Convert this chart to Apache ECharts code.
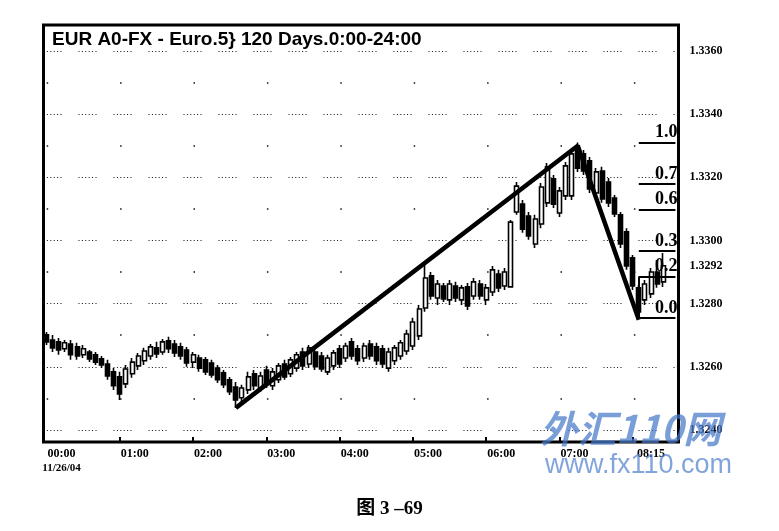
<!DOCTYPE html>
<html>
<head>
<meta charset="utf-8">
<script src="https://cdn.jsdelivr.net/npm/echarts@6/dist/echarts.min.js"></script>
<style>
html,body{margin:0;padding:0;background:#fff;}
#chart{width:779px;height:531px;}
</style>
</head>
<body>
<div id="chart"></div>
<script>
const categories = [
"00:00","00:05","00:10","00:15","00:20","00:25","00:30","00:35","00:40","00:45","00:50","00:55",
"01:00","01:05","01:10","01:15","01:20","01:25","01:30","01:35","01:40","01:45","01:50","01:55",
"02:00","02:05","02:10","02:15","02:20","02:25","02:30","02:35","02:40","02:45","02:50","02:55",
"03:00","03:05","03:10","03:15","03:20","03:25","03:30","03:35","03:40","03:45","03:50","03:55",
"04:00","04:05","04:10","04:15","04:20","04:25","04:30","04:35","04:40","04:45","04:50","04:55",
"05:00","05:05","05:10","05:15","05:20","05:25","05:30","05:35","05:40","05:45","05:50","05:55",
"06:00","06:05","06:10","06:15","06:20","06:25","06:30","06:35","06:40","06:45","06:50","06:55",
"07:00","07:05","07:10","07:15","07:20","07:25","07:30","07:35","07:40","07:45","07:50","07:55",
"08:00","08:05","08:10","08:15","08:20","08:25","08:30","08:35"];

const opens = [
1.32701,1.32685,1.32679,1.32657,1.32672,1.32663,1.32638,1.32647,1.32638,1.32625,1.32609,1.32584,
1.32568,1.32546,1.32578,1.32603,1.32619,1.32634,1.32660,1.32647,1.32682,1.32672,1.32663,1.32653,
1.32615,1.32628,1.32622,1.32612,1.32596,1.32581,1.32559,1.32536,1.32502,1.32527,1.32578,1.32533,
1.32590,1.32540,1.32559,1.32609,1.32578,1.32596,1.32647,1.32609,1.32647,1.32634,1.32584,1.32603,
1.32657,1.32628,1.32679,1.32657,1.32628,1.32672,1.32663,1.32657,1.32596,1.32619,1.32634,1.32650,
1.32666,1.32698,1.32786,1.32888,1.32818,1.32856,1.32812,1.32856,1.32812,1.32853,1.32824,1.32862,
1.32812,1.32837,1.32894,1.32856,1.32853,1.33090,1.33115,1.33077,1.32989,1.33052,1.33119,1.33195,
1.33087,1.33141,1.33141,1.33286,1.33274,1.33252,1.33150,1.33220,1.33185,1.33134,1.33081,1.33027,
1.32945,1.32850,1.32812,1.32831,1.32900,1.32869];
const closes = [
1.32679,1.32660,1.32653,1.32676,1.32638,1.32634,1.32657,1.32625,1.32615,1.32606,1.32571,1.32540,
1.32514,1.32593,1.32615,1.32634,1.32650,1.32663,1.32641,1.32679,1.32657,1.32644,1.32634,1.32612,
1.32638,1.32596,1.32584,1.32574,1.32559,1.32543,1.32521,1.32495,1.32533,1.32568,1.32540,1.32571,
1.32546,1.32584,1.32603,1.32568,1.32622,1.32638,1.32603,1.32660,1.32600,1.32593,1.32628,1.32644,
1.32609,1.32666,1.32634,1.32619,1.32666,1.32634,1.32619,1.32609,1.32647,1.32660,1.32676,1.32704,
1.32742,1.32783,1.32881,1.32824,1.32862,1.32815,1.32862,1.32818,1.32850,1.32793,1.32869,1.32824,
1.32850,1.32907,1.32850,1.32900,1.33058,1.33172,1.33036,1.33014,1.33068,1.33169,1.33233,1.33115,
1.33157,1.33236,1.33274,1.33229,1.33220,1.33163,1.33217,1.33131,1.33119,1.33084,1.32989,1.32919,
1.32856,1.32774,1.32862,1.32900,1.32862,1.32920];
const lows = [
1.32669,1.32647,1.32638,1.32647,1.32622,1.32622,1.32628,1.32615,1.32606,1.32596,1.32559,1.32527,
1.32495,1.32533,1.32565,1.32590,1.32606,1.32622,1.32628,1.32638,1.32644,1.32631,1.32622,1.32600,
1.32596,1.32584,1.32574,1.32565,1.32549,1.32533,1.32511,1.32470,1.32489,1.32514,1.32527,1.32521,
1.32533,1.32527,1.32549,1.32559,1.32568,1.32584,1.32590,1.32596,1.32590,1.32584,1.32574,1.32590,
1.32596,1.32615,1.32622,1.32606,1.32615,1.32622,1.32606,1.32596,1.32584,1.32606,1.32622,1.32638,
1.32653,1.32685,1.32774,1.32812,1.32796,1.32805,1.32796,1.32805,1.32796,1.32780,1.32812,1.32812,
1.32796,1.32824,1.32837,1.32843,1.32850,1.33081,1.33024,1.33002,1.32976,1.33039,1.33106,1.33103,
1.33074,1.33128,1.33128,1.33217,1.33207,1.33150,1.33138,1.33119,1.33106,1.33074,1.32976,1.32907,
1.32843,1.32755,1.32796,1.32818,1.32850,1.32853];
const highs = [
1.32710,1.32701,1.32691,1.32685,1.32685,1.32676,1.32669,1.32653,1.32647,1.32634,1.32622,1.32596,
1.32584,1.32606,1.32628,1.32644,1.32660,1.32672,1.32679,1.32688,1.32695,1.32685,1.32676,1.32663,
1.32647,1.32638,1.32631,1.32622,1.32606,1.32590,1.32568,1.32552,1.32543,1.32584,1.32590,1.32584,
1.32603,1.32596,1.32612,1.32622,1.32631,1.32647,1.32660,1.32669,1.32657,1.32647,1.32638,1.32653,
1.32669,1.32676,1.32691,1.32669,1.32676,1.32685,1.32676,1.32669,1.32660,1.32669,1.32685,1.32717,
1.32755,1.32796,1.32929,1.32900,1.32875,1.32865,1.32875,1.32869,1.32859,1.32865,1.32881,1.32875,
1.32862,1.32919,1.32907,1.32913,1.33065,1.33185,1.33128,1.33090,1.33081,1.33182,1.33245,1.33207,
1.33169,1.33248,1.33286,1.33310,1.33286,1.33264,1.33229,1.33233,1.33198,1.33144,1.33090,1.33039,
1.32954,1.32859,1.32875,1.32913,1.32938,1.32960];

const tickLabels = ["00:00","01:00","02:00","03:00","04:00","05:00","06:00","07:00","08:15"];
const dateLabel = "11/26/04";
const priceTicks = [1.3240,1.3260,1.3280,1.3300,1.3320,1.3340,1.3360];
const priceLabels = [1.3240,1.3260,1.3280,1.3292,1.3300,1.3320,1.3340,1.3360];
const halfTicks = [1.3250,1.3270,1.3290,1.3310,1.3330,1.3350];

const trendIndex = [31, 87, 97];
const trendValue = [1.32470, 1.33300, 1.32749];

const fibLevels = [1.33310, 1.33179, 1.33098, 1.32967, 1.32886, 1.32755];
const fibLabels = ["1.0", "0.7", "0.6", "0.3", "0.2", "0.0"];
const fibStart = 97;

const titleText = "EUR A0-FX - Euro.5} 120 Days.0:00-24:00";
const captionText = "图 3 –69";

const yMin = 1.32362, yMax = 1.33682;
const lastIdx = categories.length - 1;

const candleData = categories.map((c, i) =>
  i < opens.length ? [opens[i], closes[i], lows[i], highs[i]] : '-');
const trendData = trendIndex.map((idx, k) => [idx, trendValue[k]]);

const fibLines = fibLevels.map((v, i) => [
  {coord: [fibStart, v], label: {show: true, formatter: fibLabels[i]}},
  {coord: [lastIdx, v]}
]);
fibLines.push([
  {coord: [fibStart, fibLevels[4]], label: {show: false}},
  {coord: [fibStart, fibLevels[5]]}
]);

const serif = '"Liberation Serif", "Times New Roman", serif';
const dotGrid = [1,2.4,1,2.4,1,2.4,1,2.4,1,2.4,1,17];

const chart = echarts.init(document.getElementById('chart'), null, {renderer: 'canvas'});
chart.setOption({
  animation: false,
  backgroundColor: '#fff',
  title: [
    {text: titleText, left: 47, top: 25,
     textStyle: {fontFamily: '"Liberation Sans", Arial, sans-serif', fontWeight: 'bold', fontSize: 19, color: '#000'}},
    {text: captionText, left: 'center', top: 495,
     textStyle: {fontFamily: serif + ', "Noto Sans CJK SC"', fontWeight: 'bold', fontSize: 19, color: '#000'}}
  ],
  grid: {left: 43.5, right: 100.5, top: 25, bottom: 89, show: true,
         borderColor: '#000', borderWidth: 3, backgroundColor: 'transparent'},
  xAxis: {
    type: 'category', data: categories, boundaryGap: true,
    axisLine: {show: false},
    axisTick: {show: true, inside: true, length: 5, alignWithLabel: true,
      interval: (idx, v) => idx > 0 && v.endsWith(':00'),
      lineStyle: {color: '#000', width: 2}},
    axisLabel: {
      interval: (idx, v) => tickLabels.indexOf(v) >= 0,
      margin: 4, align: 'center',
      formatter: (v) => {
        if (v === tickLabels[0]) return '{l|' + v + '}\n{d|' + dateLabel + '}';
        if (v === tickLabels[tickLabels.length - 1]) return '{c|' + v + '}';
        return '{l|' + v + '}';
      },
      rich: {
        l: {fontFamily: serif, fontWeight: 'bold', fontSize: 12, color: '#000', padding: [0,0,0,30], lineHeight: 15},
        d: {fontFamily: serif, fontWeight: 'bold', fontSize: 11, color: '#000', padding: [0,0,0,30], lineHeight: 15},
        c: {fontFamily: serif, fontWeight: 'bold', fontSize: 12, color: '#000', lineHeight: 15}
      }
    },
    splitLine: {show: false}
  },
  yAxis: [
    {type: 'value', position: 'right', min: yMin, max: yMax, scale: true,
     axisLine: {show: false},
     axisTick: {show: false, customValues: priceTicks},
     axisLabel: {customValues: priceLabels, margin: 11, color: '#000',
       fontFamily: serif, fontWeight: 'bold', fontSize: 12,
       formatter: (v) => v.toFixed(4)},
     splitLine: {show: true, lineStyle: {color: '#111', width: 1, type: dotGrid}}},
    {type: 'value', position: 'right', min: yMin, max: yMax, scale: true,
     axisLine: {show: false},
     axisTick: {show: false, customValues: halfTicks},
     axisLabel: {show: false},
     splitLine: {show: true, lineStyle: {color: '#111', width: 1.5, type: [1.5, 71.9], dashOffset: 70.2}}}
  ],
  series: [
    {
      type: 'candlestick', data: candleData, barWidth: 4.5,
      itemStyle: {color: '#fff', color0: '#000', borderColor: '#000', borderColor0: '#000', borderWidth: 1.6},
      markLine: {
        silent: true, symbol: 'none', animation: false,
        lineStyle: {color: '#000', width: 2, type: 'solid'},
        label: {show: true, position: 'insideEndTop', distance: [-2, 1],
          fontFamily: serif, fontWeight: 'bold', fontSize: 18, color: '#000'},
        data: fibLines
      }
    },
    {
      type: 'line', data: trendData, symbol: 'none', silent: true,
      lineStyle: {color: '#000', width: 4.5}, z: 5
    }
  ],
  graphic: [
    {type: 'text', left: 540, top: 410, z: 100, silent: true,
     style: {text: '外汇110网', fill: 'rgba(70,120,200,0.72)',
       font: 'italic bold 38px "Noto Sans CJK SC", sans-serif'}},
    {type: 'text', left: 545, top: 452, z: 100, silent: true,
     style: {text: 'www.fx110.com', fill: 'rgba(80,130,205,0.72)',
       font: '27px "Liberation Sans", Arial, sans-serif'}}
  ]
});
</script>
</body>
</html>
